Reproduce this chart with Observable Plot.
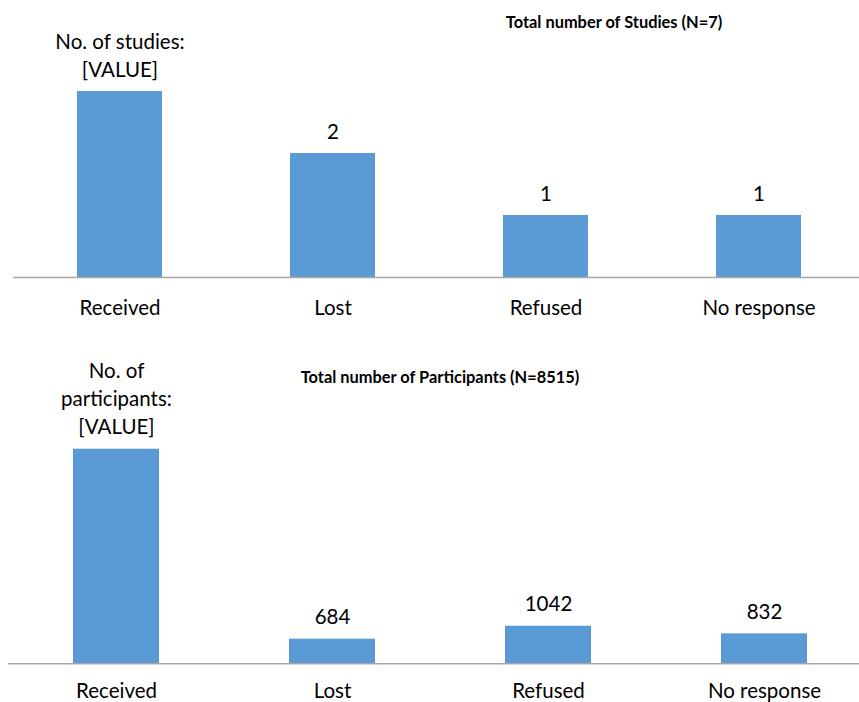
<!DOCTYPE html>
<html>
<head>
<meta charset="utf-8">
<script src="https://cdn.jsdelivr.net/npm/d3@7"></script>
<script src="https://cdn.jsdelivr.net/npm/@observablehq/plot@0.6"></script>
<style>
  html, body { margin: 0; padding: 0; background: #fff; overflow: hidden; }
  #page { position: relative; width: 859px; height: 702px; overflow: hidden; font-family: Lato, "Open Sans", sans-serif; }
  .panel { position: absolute; left: 0; }
  .panel svg { display: block; max-width: none !important; }
  .title { position: absolute; font-family: Lato, sans-serif; font-weight: 700; font-size: 16.4px; color: #000; white-space: nowrap; transform: translate(-50%, -50%); }
</style>
</head>
<body>
<div id="page"></div>
<script>
// Categories shared by both panels
const categories = ["Received", "Lost", "Refused", "No response"];

// Panel 1: number of studies (N = 7)
const studyValues = [3, 2, 1, 1];
const studyLabels = ["No. of studies:\n[VALUE]", "2", "1", "1"];
const studyTitle = "Total number of Studies (N=7)";

// Panel 2: number of participants (N = 8515)
const participantValues = [5957, 684, 1042, 832];
const participantLabels = ["No. of\nparticipants:\n[VALUE]", "684", "1042", "832"];
const participantTitle = "Total number of Participants (N=8515)";

const barColor = "#5b9bd5";
const baseColor = "#a6a6a6";
const font = "Lato, 'Open Sans', sans-serif";

function rows(values, labels) {
  return categories.map((c, i) => ({category: c, value: values[i], label: labels[i]}));
}

function barPanel(data, {height, marginTop, marginBottom, marginLeft, width, catDy}) {
  return Plot.plot({
    width, height, marginTop, marginBottom, marginLeft, marginRight: 0,
    style: {fontFamily: font, fontSize: "20.5px", color: "#000", background: "transparent", overflow: "visible"},
    x: {domain: categories, paddingInner: 0.6, paddingOuter: 0.3, axis: null},
    y: {domain: [0, d3.max(data, d => d.value)], axis: null},
    marks: [
      Plot.barY(data, {x: "category", y: "value", fill: barColor}),
      Plot.ruleY([0], {stroke: baseColor, strokeWidth: 1.4}),
      Plot.text(data, {x: "category", y: "value", text: "label", lineAnchor: "bottom", lineHeight: 1.36, dy: -15, fontSize: 20.5, fill: "#000"}),
      Plot.text(data, {x: "category", y: () => 0, text: "category", lineAnchor: "bottom", dy: catDy, fontSize: 20.5, fill: "#000"})
    ]
  });
}

const page = document.getElementById("page");

// Upper panel
const upperPanel = document.createElement("div");
upperPanel.className = "panel"; upperPanel.style.top = "0px";
upperPanel.appendChild(barPanel(rows(studyValues, studyLabels), {width: 866, height: 337, marginTop: 91, marginBottom: 60, marginLeft: 13, catDy: 37}));
page.appendChild(upperPanel);

// Lower panel
const lowerPanel = document.createElement("div");
lowerPanel.className = "panel"; lowerPanel.style.top = "330px";
lowerPanel.appendChild(barPanel(rows(participantValues, participantLabels), {width: 872, height: 372, marginTop: 118.7, marginBottom: 38.7, marginLeft: 8, catDy: 34}));
page.appendChild(lowerPanel);

// Panel titles
function addTitle(text, cx, cy) {
  const t = document.createElement("div");
  t.className = "title"; t.textContent = text;
  t.style.left = cx + "px"; t.style.top = cy + "px";
  page.appendChild(t);
}
addTitle(studyTitle, 614, 21);
addTitle(participantTitle, 440, 376);
</script>
</body>
</html>
